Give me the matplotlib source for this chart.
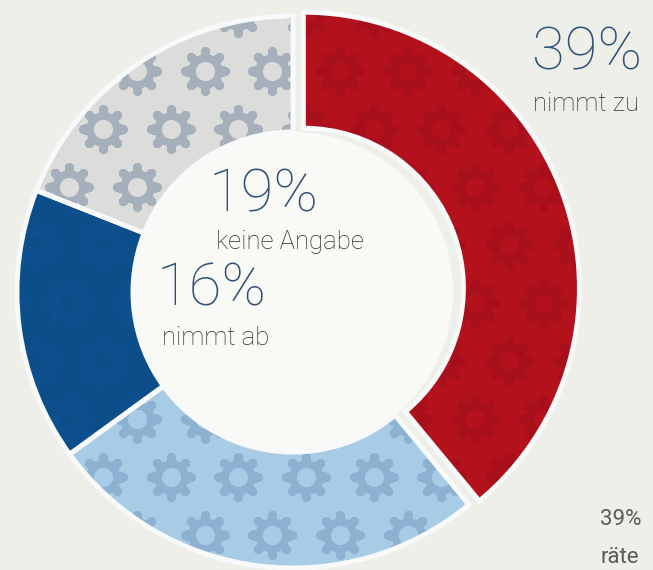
import numpy as np
import matplotlib.pyplot as plt
from matplotlib.patches import Circle

# Anteile (im Uhrzeigersinn ab 12 Uhr)
labels = ['nimmt zu', 'bleibt gleich', 'nimmt ab', 'keine Angabe']
values = [39, 26, 16, 19]
colors = ['#b3111c', '#a9cce6', '#0c4e8a', '#dcdddb']
gear_colors = ['#a70f1a', '#8db1d1', '#0d508d', '#a6b0bc']
explode = [0.04, 0, 0, 0]

W, H = 653, 570
cx, cy, r = 293, 292, 276
ring = 0.42

fig = plt.figure(figsize=(W / 100, H / 100), dpi=100)
fig.patch.set_facecolor('#efefea')
ax = fig.add_axes([(cx - r) / W, (H - cy - r) / H, 2 * r / W, 2 * r / H])

wedges, _ = ax.pie(values, colors=colors, startangle=90, counterclock=False,
                   explode=explode, radius=1.0,
                   wedgeprops=dict(width=ring, linewidth=0))
ax.add_patch(Circle((0, 0), 1 - ring, facecolor='#f9f9f6', edgecolor='none', zorder=0))

# Zahnrad-Muster als Textur, auf die Segmente beschnitten
gx, gy = np.meshgrid(np.arange(-1.3, 1.4, 0.245), np.arange(-1.3, 1.4, 0.21))
gx = gx + (np.arange(gx.shape[0])[:, None] % 2) * 0.1225
gx, gy = gx.ravel(), gy.ravel()
for w, base, gc in zip(wedges, colors, gear_colors):
    layers = [
        ax.scatter(gx, gy, s=820, marker=(8, 2, 0), color=gc, linewidths=6.5, zorder=2),
        ax.scatter(gx, gy, s=620, marker='o', color=gc, linewidths=0, zorder=2),
        ax.scatter(gx, gy, s=190, marker='o', color=base, linewidths=0, zorder=2),
    ]
    for lay in layers:
        lay.set_clip_path(w)
    w.set_clip_on(False)

# weiße Trennlinien
edges, _ = ax.pie(values, colors=colors, startangle=90, counterclock=False,
                  explode=explode, radius=1.0,
                  wedgeprops=dict(width=ring, linewidth=3.5, edgecolor='#f7f9fa'))
for e in edges:
    e.set_facecolor('none')
    e.set_zorder(3)
    e.set_clip_on(False)
ax.set_xlim(-1, 1)
ax.set_ylim(-1, 1)
ax.set_aspect('auto')
ax.axis('off')


def ftext(x, y, s, **kw):
    fig.text(x / W, 1 - y / H, s, **kw)


num_kw = dict(fontsize=43, color='#2f5077', family=['Roboto'], fontweight='light',
              ha='center', va='baseline')
lab_kw = dict(fontsize=18.5, color='#2e2e2e', family=['Roboto'], fontweight='light',
              ha='center', va='baseline')

ftext(587, 69, f'{values[0]}%', **num_kw)
ftext(586, 111, labels[0], **lab_kw)

ftext(264, 212, f'{values[3]}%', **num_kw)
ftext(290, 249, labels[3], **lab_kw)

ftext(212, 306, f'{values[2]}%', **num_kw)
ftext(216, 345, labels[2], **lab_kw)

# abgeschnittener Text am rechten Rand
small_kw = dict(fontsize=16, color='#5a5a5a', family=['Roboto'], ha='left', va='baseline')
ftext(600, 525, '39%', **small_kw)
ftext(601, 563, 'räte', **small_kw)

fig.savefig('out.png', dpi=100, facecolor=fig.get_facecolor())
